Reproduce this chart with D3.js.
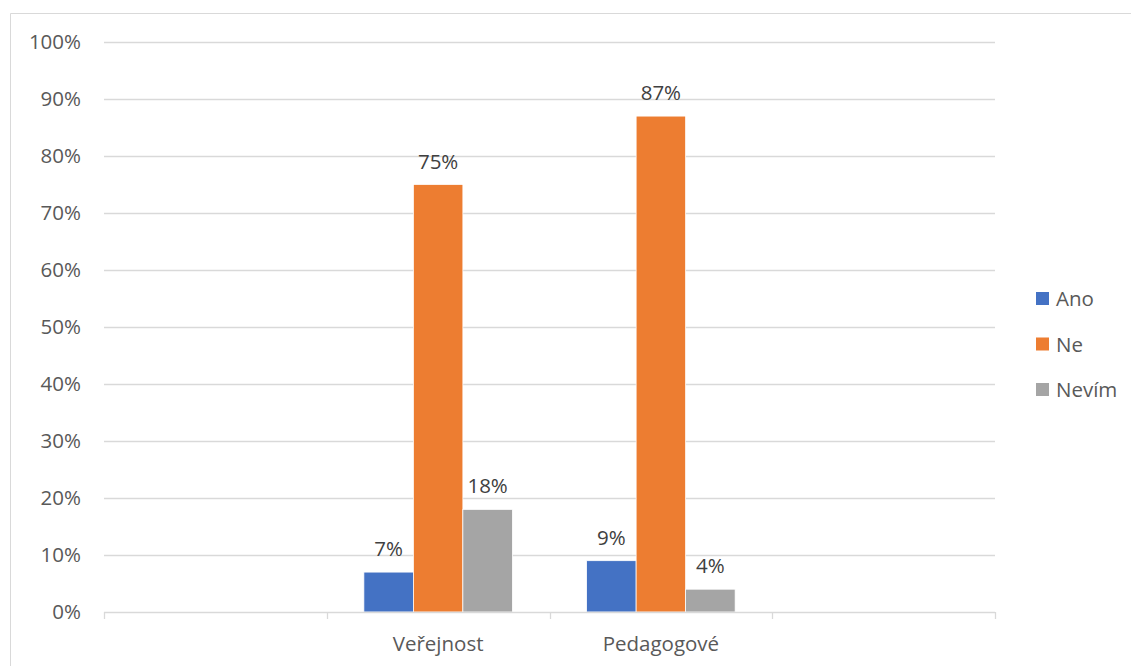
<!DOCTYPE html>
<html>
<head>
<meta charset="utf-8">
<script src="https://cdn.jsdelivr.net/npm/d3@7"></script>
<style>
  body { margin: 0; background: #fff; }
  svg { display: block; font-family: "Open Sans", "Noto Sans", sans-serif; }
</style>
</head>
<body>
<svg id="chart" width="1131" height="666"></svg>
<script>
// Category slots on the x axis (outer slots are empty)
const categories = ["", "Veřejnost", "Pedagogové", " "];
const seriesNames = ["Ano", "Ne", "Nevím"];
const ano = [null, 7, 9, null];
const ne = [null, 75, 87, null];
const nevim = [null, 18, 4, null];
const yTicks = [0, 10, 20, 30, 40, 50, 60, 70, 80, 90, 100];
const colors = ["#4472c4", "#ed7d31", "#a5a5a5"];

const series = [ano, ne, nevim];
const FONT = 20.5;

const svg = d3.select("#chart");
const margin = { left: 104, right: 995, top: 42, bottom: 612 };

// Chart frame
svg.append("path")
  .attr("d", "M10.5,666 L10.5,13.5 L1131,13.5")
  .attr("fill", "none").attr("stroke", "#d9d9d9").attr("stroke-width", 1);

const x = d3.scaleBand().domain(categories).range([margin.left, margin.right]).padding(0);
const inner = d3.scaleBand().domain(seriesNames)
  .range([0, x.bandwidth()]).paddingInner(0).paddingOuter(0.75);
const y = d3.scaleLinear().domain([0, 100]).range([margin.bottom, margin.top]);

// Gridlines
svg.append("g").selectAll("line").data(yTicks.filter(t => t > 0)).join("line")
  .attr("x1", margin.left).attr("x2", margin.right)
  .attr("y1", d => Math.round(y(d)) + 0.5).attr("y2", d => Math.round(y(d)) + 0.5)
  .attr("stroke", "#d9d9d9").attr("stroke-width", 1.3);

// Y axis labels
const yAxis = d3.axisLeft(y).tickValues(yTicks).tickFormat(d => d + "%").tickSize(0).tickPadding(23);
const gy = svg.append("g").attr("transform", `translate(${margin.left},0)`).call(yAxis);
gy.select(".domain").remove();
gy.selectAll("text").attr("font-size", FONT).attr("fill", "#595959")
  .attr("font-family", "'Open Sans', sans-serif");

// Bars
series.forEach((vals, si) => {
  const g = svg.append("g");
  const data = categories.map((c, i) => ({ c, v: vals[i] })).filter(d => d.v != null);
  g.selectAll("rect").data(data).join("rect")
    .attr("x", d => x(d.c) + inner(seriesNames[si]))
    .attr("width", inner.bandwidth())
    .attr("y", d => y(d.v))
    .attr("height", d => y(0) - y(d.v))
    .attr("fill", colors[si])
    .attr("stroke", "#fff").attr("stroke-width", 0.75);
  g.selectAll("text").data(data).join("text")
    .attr("x", d => x(d.c) + inner(seriesNames[si]) + inner.bandwidth() / 2)
    .attr("y", d => y(d.v) - 16)
    .attr("text-anchor", "middle")
    .attr("font-size", FONT).attr("fill", "#404040")
    .text(d => d.v + "%");
});

// X axis line with ticks at category boundaries
const gx = svg.append("g").attr("transform", `translate(0,${margin.bottom})`);
gx.append("line").attr("x1", margin.left).attr("x2", margin.right)
  .attr("y1", 0.5).attr("y2", 0.5).attr("stroke", "#d9d9d9").attr("stroke-width", 1.3);
const bounds = categories.map(c => x(c)).concat([margin.right]);
gx.selectAll("line.tick").data(bounds).join("line").attr("class", "tick")
  .attr("x1", d => Math.round(d) + 0.5).attr("x2", d => Math.round(d) + 0.5)
  .attr("y1", 0).attr("y2", 7).attr("stroke", "#d9d9d9").attr("stroke-width", 1.3);
gx.selectAll("text").data(categories.filter(c => c.trim() !== "")).join("text")
  .attr("x", d => x(d) + x.bandwidth() / 2)
  .attr("y", 39)
  .attr("text-anchor", "middle")
  .attr("font-size", FONT).attr("fill", "#595959")
  .text(d => d);

// Legend
const legend = svg.append("g").attr("transform", "translate(1036,292)");
seriesNames.forEach((name, i) => {
  const row = legend.append("g").attr("transform", `translate(0,${i * 45.5})`);
  row.append("rect").attr("width", 13).attr("height", 13).attr("fill", colors[i]);
  row.append("text").attr("x", 20).attr("y", 14).attr("font-size", FONT)
    .attr("fill", "#595959").text(name);
});
</script>
</body>
</html>
